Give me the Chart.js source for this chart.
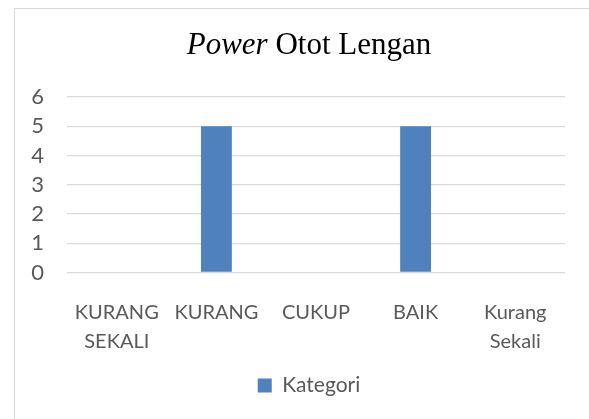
<!DOCTYPE html>
<html>
<head>
<meta charset="utf-8">
<script src="https://cdn.jsdelivr.net/npm/chart.js@4"></script>
<style>
  html, body { margin: 0; padding: 0; background: #fff; overflow: hidden; width: 589px; height: 419px; }
  #frame { position: absolute; left: 14px; top: 8px; width: 700px; height: 500px;
           border-left: 1px solid #d9d9d9; border-top: 1px solid #d9d9d9; }
  #chart { position: absolute; left: 0; top: 0; }
</style>
</head>
<body>
<div id="frame"><canvas id="chart" width="588" height="397"></canvas></div>
<script>
const categories = [['KURANG', 'SEKALI'], 'KURANG', 'CUKUP', 'BAIK', ['Kurang', 'Sekali']];
const kategori = [0, 5, 0, 5, 0];
const yTicks = [0, 1, 2, 3, 4, 5, 6];
const seriesName = 'Kategori';

const BLUE = '#4f81bd';
const GRID = '#d9d9d9';
const TXT = '#595959';

// judul campuran miring + biasa, digambar sendiri
const titlePlugin = {
    id: 'judul',
    afterDraw(chart) {
        const ctx = chart.ctx;
        const a = 'Power', b = ' Otot Lengan';
        ctx.save();
        ctx.fillStyle = '#000';
        ctx.textBaseline = 'alphabetic';
        ctx.font = 'italic 31px "Liberation Serif"';
        const wa = ctx.measureText(a).width;
        ctx.font = '31px "Liberation Serif"';
        const wb = ctx.measureText(b).width;
        let x = chart.width / 2 - (wa + wb) / 2;
        const y = 44.5;
        ctx.font = 'italic 31px "Liberation Serif"';
        ctx.fillText(a, x, y);
        ctx.font = '31px "Liberation Serif"';
        ctx.fillText(b, x + wa, y);
        ctx.restore();
    }
};

new Chart(document.getElementById('chart'), {
    type: 'bar',
    data: {
        labels: categories,
        datasets: [{
            label: seriesName,
            data: kategori,
            backgroundColor: BLUE,
            borderWidth: 0,
            categoryPercentage: 1,
            barPercentage: 0.31
        }]
    },
    options: {
        responsive: false,
        animation: false,
        devicePixelRatio: 1,
        layout: { padding: { top: 88, left: 0, right: 0, bottom: 0 } },
        plugins: {
            title: { display: false },
            tooltip: { enabled: false },
            legend: {
                position: 'bottom',
                labels: {
                    color: TXT,
                    font: { family: 'Lato', size: 21 },
                    boxWidth: 14,
                    boxHeight: 14,
                    padding: 10
                }
            }
        },
        scales: {
            x: {
                grid: { display: false },
                border: { display: false },
                ticks: { color: TXT, font: { family: 'Lato', size: 20, lineHeight: 1.44 }, padding: 17.5, maxRotation: 0, autoSkip: false },
                afterFit: s => { s.height = 92.5; s.paddingLeft = 0; s.paddingRight = 0; }
            },
            y: {
                min: yTicks[0],
                max: yTicks[yTicks.length - 1],
                grid: { color: GRID, lineWidth: 1.3, drawTicks: false },
                border: { display: false },
                ticks: { stepSize: 1, autoSkip: false, color: TXT, font: { family: 'Lato', size: 22 }, padding: 23 },
                afterFit: s => { s.width = 52; s.paddingTop = 0; s.paddingBottom = 0; }
            },
            kanan: {
                type: 'linear',
                position: 'right',
                grid: { display: false },
                border: { display: false },
                ticks: { display: false },
                afterFit: s => { s.width = 38; s.paddingTop = 0; s.paddingBottom = 0; }
            }
        }
    },
    plugins: [titlePlugin]
});
</script>
</body>
</html>
